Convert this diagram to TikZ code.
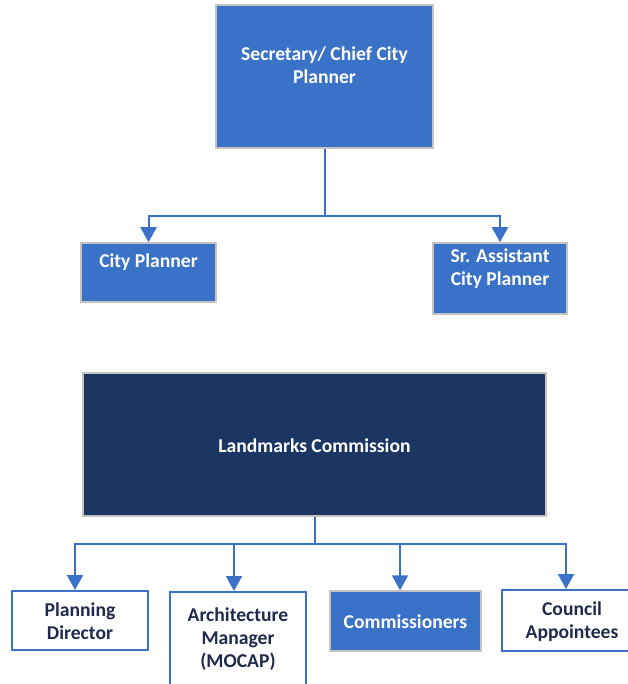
\documentclass[tikz,border=0pt]{standalone}
\usepackage{fontspec}
\setmainfont{Carlito}
\usetikzlibrary{arrows.meta}

\definecolor{boxblue}{RGB}{58,114,200}
\definecolor{boxnavy}{RGB}{27,54,99}
\definecolor{boxedge}{RGB}{196,196,196}
\definecolor{inktext}{RGB}{32,42,76}

\tikzset{
  filledbox/.style={draw=boxedge, line width=1.5pt, fill=boxblue, inner sep=0pt},
  navybox/.style={draw=boxedge, line width=1.5pt, fill=boxnavy, inner sep=0pt},
  outlinebox/.style={draw=boxblue, line width=2pt, fill=white, inner sep=0pt},
  lighttext/.style={text=white, font=\fontsize{19.6}{23}\selectfont\bfseries, align=center, inner sep=0pt},
  darktext/.style={text=inktext, font=\fontsize{19.6}{23}\selectfont\bfseries, align=center, inner sep=0pt},
  link/.style={draw=boxblue, line width=2pt, -{Triangle[width=16pt,length=15pt]}},
}

\begin{document}
\begin{tikzpicture}[x=1pt,y=-1pt]
\useasboundingbox (0,0) rectangle (627,684);

% upper chart
\node[filledbox, minimum width=217pt, minimum height=143pt] (chief) at (324.5,76.5) {};
\node[lighttext] (chieftext) at (324.5,65) {Secretary/ Chief City\\Planner};

\node[filledbox, minimum width=135pt, minimum height=59pt] (cp) at (148.5,272.5) {};
\node[lighttext] (cptext) at (148.5,262) {City Planner};

\node[filledbox, minimum width=134pt, minimum height=71pt] (sr) at (500,278.5) {};
\node[lighttext] (srtext) at (500,268.5) {Sr. Assistant\\City Planner};

\draw[link] (chief.south) -- ++(0,67.5) -| (cp.north);
\draw[link] (chief.south) -- ++(0,67.5) -| (sr.north);

% lower chart
\node[navybox, minimum width=463pt, minimum height=143pt] (lc) at (314.5,444.5) {};
\node[lighttext] (lctext) at (314.5,446) {Landmarks Commission};

\node[outlinebox, minimum width=136pt, minimum height=59pt] (pd) at (80,620.5) {};
\node[darktext] (pdtext) at (80,621.5) {Planning\\Director};

\node[outlinebox, minimum width=136pt, minimum height=104pt] (am) at (238,644) {};
\node[darktext] (amtext) at (238,639) {Architecture\\Manager\\(MOCAP)};

\node[filledbox, minimum width=151pt, minimum height=60pt] (cm) at (405.5,621) {};
\node[lighttext] (cmtext) at (405.5,622) {Commissioners};

\node[outlinebox, minimum width=140pt, minimum height=61pt] (ca) at (572,620.5) {};
\node[darktext] (catext) at (572,621.5) {Council\\Appointees};

\draw[link] (lc.south) -- ++(0,27) -| ([xshift=-5pt]pd.north);
\draw[link] (lc.south) -- ++(0,27) -| ([xshift=-4pt]am.north);
\draw[link] (lc.south) -- ++(0,27) -| ([xshift=-5.5pt]cm.north);
\draw[link] (lc.south) -- ++(0,27) -| ([xshift=-6pt]ca.north);
\end{tikzpicture}
\end{document}
